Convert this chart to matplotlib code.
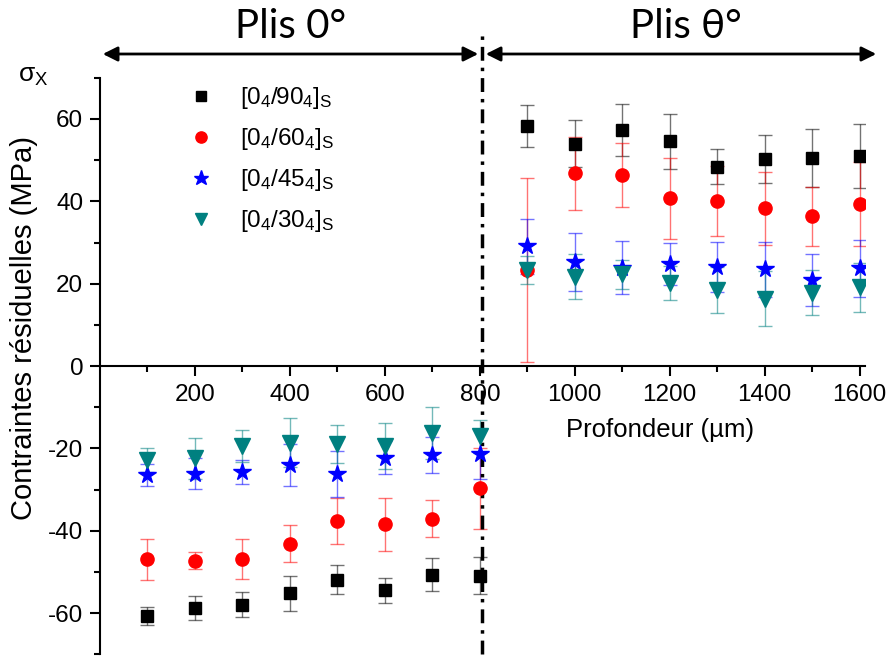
import numpy as np
import matplotlib.pyplot as plt
from matplotlib.patches import FancyArrowPatch

# profondeur (um)
depth = [100, 200, 300, 400, 500, 600, 700, 800,
         900, 1000, 1100, 1200, 1300, 1400, 1500, 1600]

s90 = [-60.7, -58.7, -57.9, -55.2, -51.9, -54.4, -50.7, -50.9,
       58.3, 54.0, 57.3, 54.6, 48.4, 50.2, 50.6, 51.0]
e90 = [2.2, 3.0, 3.0, 4.3, 3.5, 3.0, 4.0, 4.5,
       5.0, 5.7, 6.3, 6.7, 4.2, 5.8, 7.0, 7.7]

s60 = [-46.9, -47.2, -46.8, -43.1, -37.6, -38.4, -37.0, -29.7,
       23.3, 46.8, 46.4, 40.7, 40.1, 38.3, 36.4, 39.3]
e60 = [5.0, 2.0, 4.8, 4.5, 5.7, 6.4, 4.6, 9.9,
       22.4, 8.9, 7.8, 9.9, 8.4, 8.9, 7.2, 10.2]

s45 = [-26.5, -26.1, -25.7, -24.0, -26.2, -22.3, -21.6, -21.4,
       29.1, 25.2, 23.9, 24.8, 24.1, 23.5, 21.0, 23.7]
e45 = [2.7, 3.7, 2.9, 5.0, 5.5, 4.0, 4.4, 5.9,
       6.7, 7.0, 6.4, 5.0, 6.0, 6.7, 6.3, 6.8]

s30 = [-22.8, -22.4, -19.4, -18.6, -18.9, -19.4, -16.2, -17.0,
       23.3, 21.7, 22.3, 20.1, 18.4, 16.4, 17.8, 19.1]
e30 = [3.0, 5.0, 4.0, 5.9, 4.6, 5.7, 6.3, 4.0,
       3.4, 5.5, 3.5, 4.1, 5.6, 6.7, 5.5, 6.0]

labels = [r'$\mathregular{[0_4/90_4]_S}$', r'$\mathregular{[0_4/60_4]_S}$',
          r'$\mathregular{[0_4/45_4]_S}$', r'$\mathregular{[0_4/30_4]_S}$']

plt.rcParams['font.family'] = ['Liberation Sans', 'DejaVu Sans']
plt.rcParams['axes.unicode_minus'] = False

fig = plt.figure(figsize=(8.93, 6.56), dpi=100)
ax = fig.add_axes([0.112, 0.0024, 0.857, 0.879])

series = [(s90, e90, 's', 'black', 8.5),
          (s60, e60, 'o', 'red', 9.5),
          (s45, e45, '*', 'blue', 13),
          (s30, e30, 'v', '#008080', 11)]

handles = []
for (s, e, m, c, ms), lab in zip(series, labels):
    cont = ax.errorbar(depth, s, yerr=e, fmt=m, color=c, ms=ms, mec=c,
                       ecolor=c, elinewidth=1, capsize=5, capthick=1,
                       label=lab)
    for art in list(cont[1]) + list(cont[2]):
        art.set_alpha(0.55)
    handles.append(cont[0])

ax.set_xlim(0, 1612)
ax.set_ylim(-70, 70)
ax.spines['bottom'].set_position(('data', 0))
ax.spines['top'].set_visible(False)
ax.spines['right'].set_visible(False)
for sp in ['left', 'bottom']:
    ax.spines[sp].set_linewidth(1.5)

ax.set_xticks([200, 400, 600, 800, 1000, 1200, 1400, 1600])
ax.set_xticks(np.arange(100, 1600, 200), minor=True)
ax.set_yticks([-60, -40, -20, 0, 20, 40, 60])
ax.set_yticks(np.arange(-70, 71, 20), minor=True)
ax.tick_params(which='major', length=7, width=1.5, labelsize=17.5, direction='out')
ax.tick_params(axis='x', which='major', pad=6)
ax.tick_params(axis='y', which='major', pad=5)
ax.tick_params(which='minor', length=4, width=1.5, direction='out')

ax.text(1180, -15.5, 'Profondeur (µm)', fontsize=18.5, ha='center', va='center')
fig.text(24 / 893, 1 - 328 / 656, 'Contraintes résiduelles (MPa)', rotation=90,
         fontsize=21, ha='center', va='center')
fig.text(18 / 893, 1 - 76 / 656, r'σ$_\mathregular{X}$', fontsize=19,
         ha='left', va='center')

# separation line
ax.plot([805, 805], [-70, 81.5], color='black', lw=2.5, dashes=(4, 2, 1, 2),
        clip_on=False)

# arrows and zone titles
yarr = 1 - 54 / 656
for x0, x1 in [(100, 481), (483, 879)]:
    fig.add_artist(FancyArrowPatch((x0 / 893, yarr), (x1 / 893, yarr),
                                   transform=fig.transFigure, arrowstyle='<|-|>',
                                   mutation_scale=22, lw=2, color='black'))
fig.text(291 / 893, 1 - 26 / 656, 'Plis 0°', fontsize=29, ha='center',
         va='center', family='Lato')
fig.text(686 / 893, 1 - 26 / 656, 'Plis θ°', fontsize=29, ha='center',
         va='center', family='Lato')

ax.legend(handles, labels, loc='upper left', bbox_to_anchor=(0.072, 1.025),
          frameon=False, fontsize=17.5, handletextpad=0.6, labelspacing=0.62,
          markerscale=0.85)

plt.savefig('out.png', dpi=100)
